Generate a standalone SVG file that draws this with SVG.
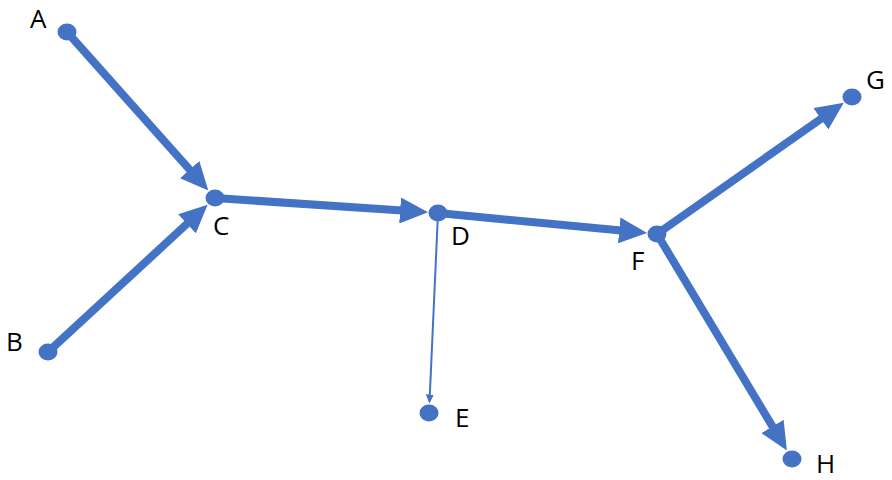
<svg xmlns="http://www.w3.org/2000/svg" width="892" height="480" viewBox="0 0 892 480">
  <style>
    .node { fill: #4472C4; }
    .label { font-family: "Open Sans", "Noto Sans", sans-serif; font-size: 26px; fill: #000; }
    .thick { stroke: #4472C4; stroke-width: 8; fill: none; marker-end: url(#bigArrow); }
    .thin { stroke: #4472C4; stroke-width: 2; fill: none; marker-end: url(#smallArrow); }
  </style>
  <defs>
    <marker id="bigArrow" markerUnits="userSpaceOnUse" markerWidth="30" markerHeight="26" refX="2" refY="13" orient="auto">
      <path d="M0,0 L28,13 L0,26 Z" fill="#4472C4"/>
    </marker>
    <marker id="smallArrow" markerUnits="userSpaceOnUse" markerWidth="10" markerHeight="8" refX="1" refY="4" orient="auto">
      <path d="M0,0 L9,4 L0,8 Z" fill="#4472C4"/>
    </marker>
  </defs>
  <rect width="892" height="480" fill="#fff"/>

  <g id="connectors">
    <line class="thick" x1="67" y1="32" x2="191" y2="171.1"/>
    <line class="thick" x1="48" y1="352" x2="188.5" y2="222.4"/>
    <line class="thick" x1="215" y1="198" x2="402.1" y2="210.6"/>
    <line class="thick" x1="438" y1="213" x2="621.2" y2="230.6"/>
    <line class="thick" x1="657" y1="234" x2="822.5" y2="117.7"/>
    <line class="thick" x1="657" y1="234" x2="773.5" y2="428.1"/>
    <line class="thin" x1="438" y1="213" x2="429.8" y2="395.5"/>
  </g>

  <g id="A"><ellipse class="node" cx="67" cy="32" rx="9.5" ry="8.5"/><text class="label" x="30" y="28">A</text></g>
  <g id="B"><ellipse class="node" cx="48" cy="352" rx="9.5" ry="8.5"/><text class="label" x="6" y="351">B</text></g>
  <g id="C"><ellipse class="node" cx="215" cy="198" rx="9.5" ry="8.5"/><text class="label" x="213" y="235">C</text></g>
  <g id="D"><ellipse class="node" cx="438" cy="213" rx="9.5" ry="8.5"/><text class="label" x="451" y="245">D</text></g>
  <g id="E"><ellipse class="node" cx="429" cy="413" rx="9.5" ry="8.5"/><text class="label" x="455" y="427">E</text></g>
  <g id="F"><ellipse class="node" cx="657" cy="234" rx="9.5" ry="8.5"/><text class="label" x="631" y="270">F</text></g>
  <g id="G"><ellipse class="node" cx="852" cy="97" rx="9.5" ry="8.5"/><text class="label" x="866" y="89">G</text></g>
  <g id="H"><ellipse class="node" cx="792" cy="459" rx="9.5" ry="8.5"/><text class="label" x="816" y="473">H</text></g>
</svg>
